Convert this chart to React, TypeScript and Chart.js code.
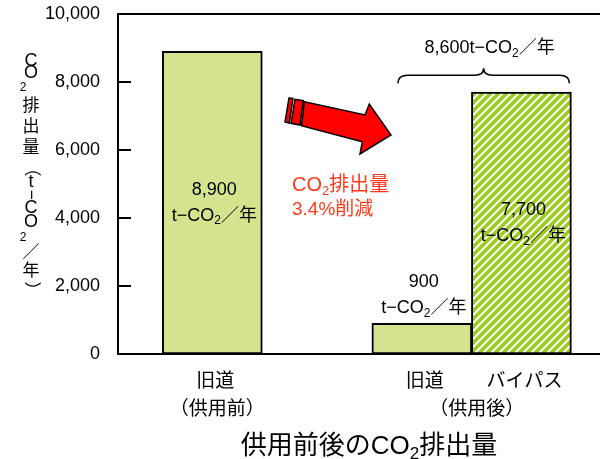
import React, { useEffect, useRef } from 'react';
import { Chart, registerables } from 'chart.js';

Chart.register(...registerables);

// CO2 emissions before / after the bypass opened (t-CO2/year)
const categories = ['旧道（供用前）', '旧道（供用後）', 'バイパス（供用後）'];
const emissions = [8900, 900, 7700];
// slot of each bar along the horizontal axis
const slotPositions = [1, 3, 3.95];
const roadNames = ['旧道', '旧道', 'バイパス'];
const periodNames = ['（供用前）', '（供用後）'];
const periodGroups = [[0], [1, 2]];
const yTicks = [0, 2000, 4000, 6000, 8000, 10000];
const yTitle = 'CO2排出量（t−CO2／年）';
const chartTitle = '供用前後のCO₂排出量';

const FONT = '"Liberation Sans", "Noto Sans CJK JP", sans-serif';
const SOLID_GREEN = '#d3e38e';
const HATCH_GREEN = '#9ccc1c';
const RED_TEXT = '#ff3a1a';

type Seg = { t: string; sub?: boolean };

const unitSegs: Seg[] = [{ t: 't−CO' }, { t: '2', sub: true }, { t: '／年' }];

function drawRich(
  ctx: CanvasRenderingContext2D,
  segs: Seg[],
  x: number,
  y: number,
  size: number,
  align: 'left' | 'center',
  color: string
) {
  const subSize = Math.round(size * 0.64);
  const widths = segs.map((s) => {
    ctx.font = `${s.sub ? subSize : size}px ${FONT}`;
    return ctx.measureText(s.t).width;
  });
  const total = widths.reduce((a, b) => a + b, 0);
  let cx = align === 'center' ? x - total / 2 : x;
  ctx.textAlign = 'left';
  ctx.textBaseline = 'middle';
  ctx.fillStyle = color;
  segs.forEach((s, i) => {
    ctx.font = `${s.sub ? subSize : size}px ${FONT}`;
    ctx.fillText(s.t, cx, s.sub ? y + size * 0.3 : y);
    cx += widths[i];
  });
}

function makeHatch(): CanvasPattern | string {
  const c = document.createElement('canvas');
  c.width = 8;
  c.height = 8;
  const g = c.getContext('2d');
  if (!g) return HATCH_GREEN;
  g.fillStyle = '#ffffff';
  g.fillRect(0, 0, 8, 8);
  g.strokeStyle = HATCH_GREEN;
  g.lineWidth = 3.6;
  g.lineCap = 'square';
  const lines = [
    [-4, 4, 4, -4],
    [0, 8, 8, 0],
    [4, 12, 12, 4],
  ];
  lines.forEach(([x1, y1, x2, y2]) => {
    g.beginPath();
    g.moveTo(x1, y1);
    g.lineTo(x2, y2);
    g.stroke();
  });
  const p = g.createPattern(c, 'repeat');
  return p || HATCH_GREEN;
}

function poly(ctx: CanvasRenderingContext2D, pts: number[][]) {
  ctx.beginPath();
  pts.forEach(([x, y], i) => (i === 0 ? ctx.moveTo(x, y) : ctx.lineTo(x, y)));
  ctx.closePath();
  ctx.fill();
  ctx.stroke();
}

const annotations = {
  id: 'annotations',
  afterDraw(chart: any) {
    const ctx: CanvasRenderingContext2D = chart.ctx;
    const { left, right, top, bottom } = chart.chartArea;
    const yScale = chart.scales.y;
    const bars = chart.getDatasetMeta(0).data as any[];
    ctx.save();

    // frame: top line and inward tick marks
    ctx.strokeStyle = '#000';
    ctx.lineWidth = 2;
    ctx.beginPath();
    ctx.moveTo(left - 1, top);
    ctx.lineTo(right, top);
    ctx.stroke();
    yTicks.forEach((v) => {
      const py = Math.round(yScale.getPixelForValue(v));
      ctx.beginPath();
      ctx.moveTo(left, py);
      ctx.lineTo(left + 13, py);
      ctx.stroke();
    });

    // value labels
    bars.forEach((bar, i) => {
      const value = emissions[i].toLocaleString('en-US');
      const h = bar.base - bar.y;
      let y1: number;
      let y2: number;
      if (h > 80) {
        const mid = (bar.y + bar.base) / 2;
        y1 = mid - 13;
        y2 = mid + 13;
      } else {
        y2 = bar.y - 15;
        y1 = y2 - 26;
      }
      ctx.font = `18px ${FONT}`;
      ctx.fillStyle = '#000';
      ctx.textAlign = 'center';
      ctx.textBaseline = 'middle';
      ctx.fillText(value, bar.x + 2, y1);
      drawRich(ctx, unitSegs, bar.x + 2, y2, 18, 'center', '#000');
    });

    // category labels
    ctx.font = `19px ${FONT}`;
    ctx.fillStyle = '#000';
    ctx.textAlign = 'center';
    ctx.textBaseline = 'middle';
    bars.forEach((bar, i) => {
      ctx.fillText(roadNames[i], bar.x + 3, bottom + 28);
    });
    periodGroups.forEach((grp, gi) => {
      const xs = grp.map((i) => bars[i].x);
      const cx = (Math.min(...xs) + Math.max(...xs)) / 2;
      ctx.fillText(periodNames[gi], cx + 5, bottom + 56);
    });

    // chart title
    const titleParts = chartTitle.split('₂');
    drawRich(
      ctx,
      [{ t: titleParts[0] }, { t: '2', sub: true }, { t: titleParts[1] }],
      (left + right) / 2 + 10,
      bottom + 93,
      26,
      'center',
      '#000'
    );

    // vertical axis title, one glyph at a time
    const gaps = [0, 12, 15, 18, 21, 21, 20, 14, 13, 13, 14, 16, 15, 18, 19];
    let gy = 61;
    Array.from(yTitle).forEach((ch, i) => {
      gy += gaps[i];
      ctx.save();
      ctx.fillStyle = '#000';
      ctx.textAlign = 'center';
      ctx.textBaseline = 'middle';
      if (ch === '2') {
        ctx.font = `12px ${FONT}`;
        ctx.fillText(ch, 23, gy);
      } else if (ch === '（' || ch === '）' || ch === '−') {
        ctx.font = `17px ${FONT}`;
        ctx.translate(31, gy);
        ctx.rotate(Math.PI / 2);
        ctx.fillText(ch, 0, 0);
      } else {
        ctx.font = `${ch.charCodeAt(0) > 0x2e80 ? 17 : 18}px ${FONT}`;
        ctx.fillText(ch, 31, gy);
      }
      ctx.restore();
    });

    // brace over the post-opening pair with their total
    const total = emissions[1] + emissions[2];
    const bL = bars[1].x - 24;
    const bR = bars[2].x + bars[2].width / 2 - 2;
    const yEnd = bars[2].y - 9;
    const yMid = yEnd - 8;
    const yCusp = yMid - 7;
    const bc = (bL + bR) / 2;
    ctx.strokeStyle = '#000';
    ctx.lineWidth = 1.6;
    ctx.beginPath();
    ctx.moveTo(bL, yEnd);
    ctx.quadraticCurveTo(bL, yMid, bL + 10, yMid);
    ctx.lineTo(bc - 9, yMid);
    ctx.quadraticCurveTo(bc, yMid, bc, yCusp);
    ctx.quadraticCurveTo(bc, yMid, bc + 9, yMid);
    ctx.lineTo(bR - 10, yMid);
    ctx.quadraticCurveTo(bR, yMid, bR, yEnd);
    ctx.stroke();
    drawRich(
      ctx,
      [{ t: total.toLocaleString('en-US') + 't−CO' }, { t: '2', sub: true }, { t: '／年' }],
      bc + 6,
      yCusp - 20,
      18,
      'center',
      '#000'
    );

    // reduction arrow
    ctx.fillStyle = '#ff0000';
    ctx.strokeStyle = '#000';
    ctx.lineWidth = 1.5;
    ctx.lineJoin = 'miter';
    poly(ctx, [[285, 122], [289, 98], [293, 98.5], [289.3, 123]]);
    poly(ctx, [[291, 123.3], [295, 99.3], [303.3, 100.7], [300, 125]]);
    poly(ctx, [
      [304.3, 101.7],
      [365, 115],
      [369.3, 104],
      [391, 135],
      [360, 154],
      [362.3, 141.7],
      [301.5, 125.7],
    ]);

    // reduction note
    const rate = (((emissions[0] - total) / emissions[0]) * 100).toFixed(1);
    drawRich(ctx, [{ t: 'CO' }, { t: '2', sub: true }, { t: '排出量' }], 292, 185, 20, 'left', RED_TEXT);
    ctx.font = `19px ${FONT}`;
    ctx.fillStyle = RED_TEXT;
    ctx.textAlign = 'left';
    ctx.textBaseline = 'middle';
    ctx.fillText(`${rate}%削減`, 292, 210);

    ctx.restore();
  },
};

export default function App() {
  const ref = useRef<HTMLCanvasElement>(null);

  useEffect(() => {
    document.body.style.margin = '0';
    const canvas = ref.current;
    if (!canvas) return;
    const hatch = makeHatch();
    const chart = new Chart(canvas, {
      type: 'bar',
      data: {
        labels: categories,
        datasets: [
          {
            label: 'CO2排出量',
            data: emissions.map((v, i) => ({ x: slotPositions[i], y: v })) as any,
            backgroundColor: [SOLID_GREEN, SOLID_GREEN, hatch] as any,
            borderColor: '#000',
            borderWidth: 2,
            borderSkipped: false,
            barThickness: 100,
          },
        ],
      },
      options: {
        responsive: false,
        animation: false,
        devicePixelRatio: 1,
        layout: { padding: { top: 14, right: 0, left: 0, bottom: 0 } },
        plugins: {
          legend: { display: false },
          tooltip: { enabled: false },
          title: { display: false },
        },
        scales: {
          x: {
            type: 'linear',
            offset: false,
            min: 0.1,
            max: 4.7,
            grid: { display: false },
            border: { display: true, color: '#000', width: 2 },
            ticks: { display: false },
            afterFit: (s: any) => {
              s.height = 105;
            },
          },
          y: {
            type: 'linear',
            min: 0,
            max: 10000,
            grid: { display: false },
            border: { display: true, color: '#000', width: 2 },
            afterBuildTicks: (s: any) => {
              s.ticks = yTicks.map((v) => ({ value: v }));
            },
            ticks: {
              color: '#000',
              padding: 10,
              font: { family: FONT, size: 18 },
              callback: (v: any) => Number(v).toLocaleString('en-US'),
            },
            afterFit: (s: any) => {
              s.width = 118;
              s.paddingTop = 0;
              s.paddingBottom = 0;
            },
          },
        },
      },
      plugins: [annotations],
    });
    return () => chart.destroy();
  }, []);

  return (
    <div style={{ width: 600, height: 459, background: '#fff' }}>
      <canvas ref={ref} width={600} height={459} />
    </div>
  );
}
